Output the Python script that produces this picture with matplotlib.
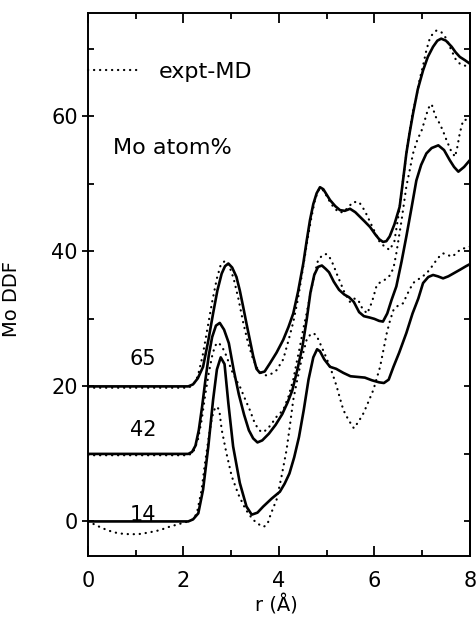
import matplotlib
matplotlib.use("Agg")
import matplotlib.pyplot as plt

# solid curves (MD), offset by 0 / 10 / 20
r_14 = [0, 2.1, 2.2, 2.31, 2.41, 2.52, 2.62, 2.7, 2.78, 2.86, 2.94, 3.04, 3.18, 3.32, 3.43, 3.55,
        3.67, 3.85, 4.02, 4.12, 4.22, 4.32, 4.42, 4.52, 4.62, 4.72, 4.8, 4.86, 4.95, 5.07, 5.2,
        5.35, 5.5, 5.65, 5.8, 5.95, 6.1, 6.2, 6.3, 6.4, 6.52, 6.67, 6.8, 6.92, 7.02, 7.13, 7.23,
        7.33, 7.44, 7.55, 7.65, 7.8, 7.92, 8.0]
g_14 = [0, 0, 0.3, 1.2, 4.7, 11.1, 18, 22.5, 24.3, 23.3, 17.5, 11.1, 5.7, 2.2, 1.0, 1.3,
        2.2, 3.4, 4.4, 5.6, 7.1, 9.5, 12.5, 16.5, 21.0, 24.3, 25.5, 25.2, 24.0, 22.9, 22.6,
        22.0, 21.5, 21.4, 21.3, 20.9, 20.6, 20.5, 21.0, 22.9, 25.0, 27.9, 30.8, 33.0, 35.3, 36.2, 36.5,
        36.3, 36.0, 36.3, 36.7, 37.3, 37.8, 38.1]

r_42 = [0, 2.1, 2.18, 2.25, 2.32, 2.39, 2.46, 2.53, 2.6, 2.68, 2.76, 2.85, 2.95, 3.05, 3.16, 3.27,
        3.37, 3.46, 3.55, 3.65, 3.79, 3.93, 4.07, 4.18, 4.28, 4.38, 4.49, 4.58, 4.66, 4.74, 4.82,
        4.9, 4.98, 5.05, 5.15, 5.26, 5.37, 5.47, 5.57, 5.68, 5.78, 5.9, 6.0, 6.1, 6.18, 6.27, 6.36,
        6.46, 6.57, 6.67, 6.78, 6.88, 6.98, 7.09, 7.2, 7.34, 7.46, 7.58, 7.67, 7.76, 7.88, 8.0]
g_42 = [10, 10, 10.3, 11.2, 13.5, 17, 21, 24.6, 27.3, 29, 29.4, 28.4, 26.4, 22.5, 18.8, 15.8,
        13.5, 12.3, 11.7, 12.0, 13.0, 14.3, 15.9, 17.6, 19.4, 22.3, 25.8, 29.8, 33.9, 36.5, 37.7,
        37.9, 37.4, 36.9, 35.5, 34.3, 33.6, 33.2, 32.5, 31.0, 30.4, 30.2, 30.0, 29.7, 29.6, 30.8, 32.8,
        34.8, 38.5, 42.2, 46.5, 50.5, 52.8, 54.5, 55.3, 55.7, 55.0, 53.5, 52.5, 51.8, 52.5, 53.5]

r_65 = [0, 2.1, 2.2, 2.3, 2.41, 2.52, 2.62, 2.71, 2.8, 2.87, 2.94, 3.02, 3.11, 3.18, 3.25, 3.32,
        3.39, 3.46, 3.53, 3.6, 3.7, 3.81, 3.95, 4.09, 4.2, 4.3, 4.4, 4.51, 4.58, 4.65, 4.72, 4.79,
        4.86, 4.93, 5.0, 5.07, 5.18, 5.28, 5.38, 5.49, 5.6, 5.7, 5.8, 5.91, 6.02, 6.1, 6.18, 6.25,
        6.32, 6.42, 6.53, 6.6, 6.67, 6.74, 6.81, 6.91, 7.02, 7.12, 7.23, 7.32, 7.4, 7.5, 7.62, 7.7,
        7.79, 7.9, 8.0]
g_65 = [20, 20, 20.3, 21.2, 22.9, 26.8, 30.8, 34.2, 36.7, 37.8, 38.2, 37.6, 36.2, 34.2, 31.8, 29.3,
        26.9, 24.5, 22.6, 22.0, 22.2, 23.4, 25.0, 26.9, 28.8, 30.8, 34.0, 38.2, 41.5, 44.6, 47.0, 48.6,
        49.5, 49.2, 48.4, 47.6, 46.7, 46.1, 46.0, 46.3, 45.8, 45.1, 44.4, 43.6, 42.5, 41.8, 41.4, 41.5,
        42.2, 44.0, 46.6, 50.5, 54.5, 57.6, 60.4, 64.0, 66.8, 68.8, 70.3, 71.2, 71.5, 71.2, 70.3, 69.5,
        68.8, 68.3, 67.8]

# dotted curves (expt)
re_14 = [0, 0.15, 0.3, 0.45, 0.6, 0.75, 0.92, 1.1, 1.3, 1.5, 1.7, 1.9, 2.05, 2.2, 2.28, 2.38, 2.45,
         2.53, 2.6, 2.66, 2.7, 2.75, 2.8, 2.9, 3.01, 3.15, 3.3, 3.45, 3.57, 3.68, 3.76, 3.81, 3.88,
         3.95, 4.05, 4.16, 4.23, 4.3, 4.37, 4.44, 4.51, 4.58, 4.65, 4.72, 4.79, 4.86, 4.96, 5.07,
         5.14, 5.21, 5.28, 5.35, 5.46, 5.57, 5.67, 5.77, 5.88, 5.98, 6.05, 6.12, 6.19, 6.26, 6.33,
         6.4, 6.5, 6.6, 6.7, 6.81, 6.95, 7.09, 7.2, 7.3, 7.37, 7.44, 7.53, 7.62, 7.7, 7.79, 7.9, 8.0]
ge_14 = [0, -0.5, -1.0, -1.4, -1.7, -1.85, -1.9, -1.85, -1.6, -1.3, -0.8, -0.4, -0.1, 0.3, 1.2, 4.7, 8.6,
         12.5, 15.5, 16.8, 17.0, 16.5, 13.6, 10.1, 6.7, 4.0, 1.8, 0.3, -0.4, -0.8, -0.4, 0.7, 2.0,
         3.2, 6.5, 10.6, 14.2, 18.0, 20.5, 22.9, 25.0, 26.9, 27.6, 27.9, 27.5, 26.4, 24.8, 22.9,
         21.5, 20.0, 18.2, 16.5, 15.0, 13.8, 14.8, 16.0, 17.8, 19.5, 21.2, 22.9, 25.4, 27.9, 29.8,
         31.3, 32.0, 32.3, 33.8, 35.3, 36.0, 36.7, 37.7, 38.7, 39.3, 39.7, 39.5, 39.2, 39.6, 40.2, 40.5, 40.7]

re_42 = [0, 2.1, 2.2, 2.3, 2.38, 2.45, 2.53, 2.6, 2.66, 2.72, 2.8, 2.9, 3.0, 3.1, 3.18, 3.28, 3.39,
         3.48, 3.57, 3.65, 3.75, 3.85, 3.95, 4.09, 4.2, 4.3, 4.37, 4.44, 4.51, 4.58, 4.65, 4.72,
         4.82, 4.92, 5.0, 5.07, 5.14, 5.21, 5.28, 5.38, 5.49, 5.58, 5.66, 5.75, 5.85, 5.95, 6.05,
         6.12, 6.22, 6.32, 6.4, 6.46, 6.57, 6.67, 6.74, 6.81, 6.9, 6.99, 7.06, 7.13, 7.2, 7.28,
         7.37, 7.44, 7.51, 7.6, 7.69, 7.74, 7.79, 7.86, 7.93, 8.0]
ge_42 = [9.8, 9.8, 10.2, 12.0, 15.0, 18.5, 22.0, 24.5, 26.0, 26.5, 26.0, 24.5, 22.5, 21.0, 20.0, 18.3, 16.5,
         14.8, 13.6, 13.2, 13.6, 14.5, 15.5, 16.5, 18.5, 21.0, 23.5, 25.9, 28.5, 30.8, 33.3, 35.8,
         38.7, 39.5, 39.6, 39.0, 38.0, 36.7, 35.5, 33.8, 32.5, 33.0, 32.8, 31.5, 30.8, 32.5, 35.0,
         35.4, 35.8, 36.4, 37.5, 39.7, 44.6, 49.6, 52.0, 54.5, 56.5, 57.9, 59.5, 61.2, 61.8, 60.0,
         58.9, 57.8, 56.5, 55.0, 54.0, 55.5, 57.5, 59.4, 59.5, 59.2]

re_65 = [0, 2.1, 2.2, 2.3, 2.4, 2.5, 2.6, 2.7, 2.78, 2.87, 2.95, 3.05, 3.15, 3.25, 3.35, 3.45, 3.55,
         3.65, 3.75, 3.85, 3.95, 4.09, 4.2, 4.3, 4.4, 4.51, 4.6, 4.68, 4.76, 4.84, 4.9, 5.0, 5.07,
         5.15, 5.25, 5.35, 5.45, 5.55, 5.68, 5.8, 5.9, 6.0, 6.11, 6.2, 6.32, 6.42, 6.52, 6.6, 6.7,
         6.8, 6.87, 6.95, 7.02, 7.09, 7.16, 7.23, 7.3, 7.4, 7.51, 7.6, 7.7, 7.79, 7.9, 8.0]
ge_65 = [19.8, 19.8, 20.2, 21.5, 24.5, 28.5, 32.5, 36.0, 38.0, 38.6, 38.0, 36.0, 33.0, 29.5, 26.5, 24.2, 22.6,
         21.8, 21.6, 21.9, 22.4, 24.0, 26.8, 29.5, 33.0, 37.8, 41.8, 45.0, 47.8, 49.2, 49.3, 48.2, 47.3,
         46.5, 45.8, 45.8, 46.5, 47.3, 47.3, 46.0, 44.5, 43.0, 41.4, 40.8, 40.2, 41.5, 46.0, 50.5, 56.0,
         60.5, 62.5, 65.5, 67.5, 69.8, 71.5, 72.3, 72.7, 72.5, 71.5, 70.0, 68.5, 67.8, 67.5, 67.3]

labels = ["14", "42", "65"]
label_y = [1.0, 13.6, 24.1]

fig = plt.figure(figsize=(4.76, 6.19), dpi=100)
ax = fig.add_axes([0.185, 0.102, 0.802, 0.877])

dot = dict(color="k", lw=1.6, linestyle=(0, (0.1, 2.6)), dash_capstyle="round")
solid = dict(color="k", lw=1.9)

line_e, = ax.plot(re_14, ge_14, **dot)
ax.plot(re_42, ge_42, **dot)
ax.plot(re_65, ge_65, **dot)
ax.plot(r_14, g_14, **solid)
ax.plot(r_42, g_42, **solid)
ax.plot(r_65, g_65, **solid)

for lab, yy in zip(labels, label_y):
    ax.text(1.15, yy, lab, ha="center", va="center", fontsize=15)

ax.text(0.52, 55.3, "Mo atom%", ha="left", va="center", fontsize=16)
ax.legend([line_e], ["expt-MD"], loc="center left", bbox_to_anchor=(0, 0.892),
          frameon=False, fontsize=16, handlelength=2.2, handletextpad=1.0,
          borderpad=0, borderaxespad=0)

ax.set_xlim(0, 8)
ax.set_ylim(-5.1, 75.3)
ax.set_xticks([0, 2, 4, 6, 8])
ax.set_xticks([1, 3, 5, 7], minor=True)
ax.set_yticks([0, 20, 40, 60])
ax.set_yticks([10, 30, 50, 70], minor=True)

for s in ax.spines.values():
    s.set_linewidth(1.4)

ax.tick_params(axis="x", which="both", direction="in", top=True, labelsize=15, pad=11, width=1.3)
ax.tick_params(axis="x", which="major", length=7)
ax.tick_params(axis="x", which="minor", length=4.5)
ax.tick_params(axis="y", which="major", direction="inout", length=9, labelsize=15, pad=3, width=1.3)
ax.tick_params(axis="y", which="minor", direction="in", length=4.5, width=1.3)

sec = ax.secondary_yaxis("right")
sec.set_yticks([0, 10, 20, 30, 40, 50, 60, 70])
sec.tick_params(direction="in", length=4, width=1.3, labelright=False)
sec.spines["right"].set_linewidth(1.4)

ax.set_ylabel("Mo DDF", fontsize=14)
ax.yaxis.set_label_coords(-0.175, 0.473)
ax.set_xlabel("r (Å)", fontsize=14)
ax.xaxis.set_label_coords(0.492, -0.071)

fig.savefig("out.png", dpi=100)
